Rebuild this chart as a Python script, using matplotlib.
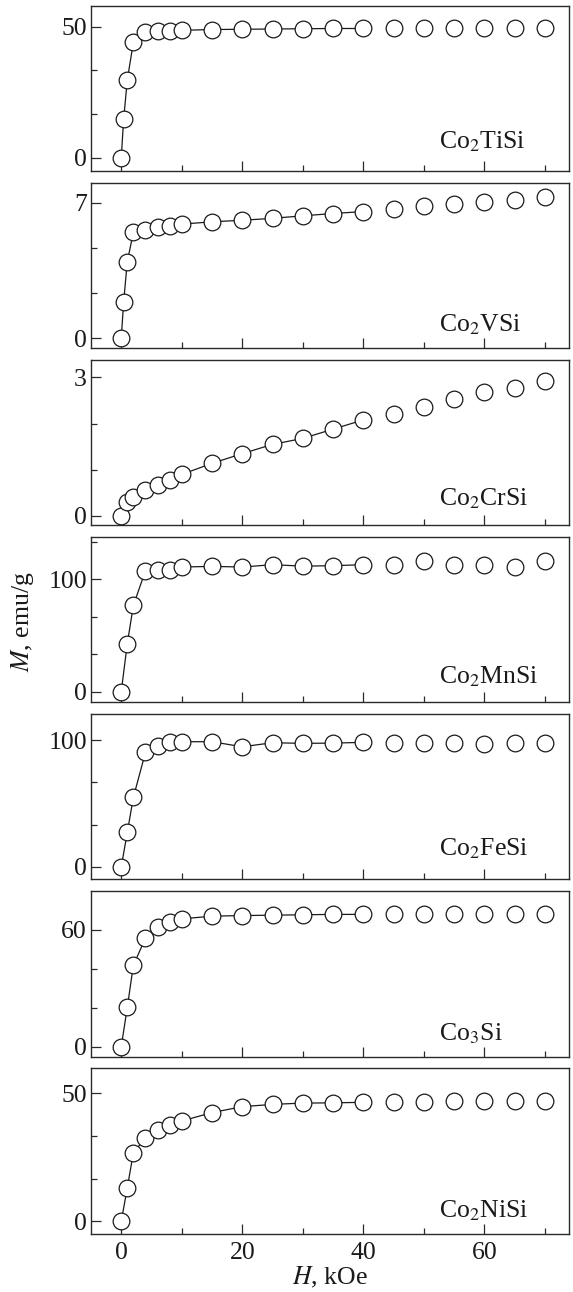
import matplotlib
matplotlib.use("Agg")
import matplotlib.pyplot as plt
from matplotlib.ticker import MultipleLocator, FixedLocator

plt.rcParams['font.family'] = ['Liberation Serif', 'DejaVu Serif']
plt.rcParams['mathtext.fontset'] = 'stix'

# ---- data ----
H_a = [0, 0.4, 1, 2, 4, 6, 8, 10, 15, 20, 25, 30, 35, 40, 45, 50, 55, 60, 65, 70]
H_b = [0, 1, 2, 4, 6, 8, 10, 15, 20, 25, 30, 35, 40, 45, 50, 55, 60, 65, 70]

M_TiSi = [0, 14.8, 29.7, 44.0, 47.8, 48.2, 48.5, 48.6, 48.9, 49.0, 49.1, 49.2, 49.3,
          49.3, 49.4, 49.4, 49.4, 49.5, 49.5, 49.5]
M_VSi = [0, 1.89, 3.96, 5.47, 5.61, 5.73, 5.80, 5.90, 6.02, 6.10, 6.20, 6.33, 6.45,
         6.55, 6.70, 6.82, 6.93, 7.02, 7.14, 7.28]
M_CrSi = [0, 0.31, 0.41, 0.56, 0.67, 0.78, 0.90, 1.14, 1.35, 1.55, 1.68, 1.88, 2.08,
          2.21, 2.35, 2.53, 2.68, 2.78, 2.93]
M_MnSi = [0, 42.7, 76.6, 107.4, 108.3, 108.3, 110.7, 111.3, 110.7, 112.8, 111.5, 111.9,
          112.8, 112.8, 115.8, 112.8, 112.2, 110.4, 115.8]
M_FeSi = [0, 27.1, 54.7, 90.3, 95.3, 98.2, 98.7, 98.7, 94.7, 97.9, 97.4, 97.6, 98.2,
          97.4, 97.4, 97.4, 96.6, 97.4, 97.4]
M_Co3Si = [0, 20.1, 41.7, 55.6, 61.4, 64.1, 65.5, 66.9, 67.2, 67.4, 67.6, 67.8, 67.8,
           67.9, 67.9, 67.9, 67.9, 67.9, 67.9]
M_NiSi = [0, 13.1, 26.8, 32.6, 35.6, 37.6, 39.2, 42.5, 44.8, 45.7, 46.2, 46.3, 46.5,
          46.7, 46.8, 46.9, 47.0, 47.0, 47.0]

labels = ["Co$_2$TiSi", "Co$_2$VSi", "Co$_2$CrSi", "Co$_2$MnSi", "Co$_2$FeSi",
          "Co$_3$Si", "Co$_2$NiSi"]
H_sets = [H_a, H_a, H_b, H_b, H_b, H_b, H_b]
M_sets = [M_TiSi, M_VSi, M_CrSi, M_MnSi, M_FeSi, M_Co3Si, M_NiSi]
y_major = [[0, 50], [0, 7], [0, 3], [0, 100], [0, 100], [0, 60], [0, 50]]
y_minor_step = [50 / 3, 7 / 3, 1, 100 / 3, 100 / 3, 20, 50 / 3]
y_lims = [(-5.1, 58), (-0.52, 8.04), (-0.2, 3.38), (-9.5, 137.4), (-10, 120.5),
          (-5.1, 79.7), (-4.8, 59.8)]
x_major = [0, 20, 40, 60]
line_end_H = 40

# ---- layout ----
W, Hpx = 573, 1292
fig = plt.figure(figsize=(W / 100, Hpx / 100), dpi=100)
left_px, right_px = 91, 569
top0, pitch, hgt = 5.7, 177.1, 165.3
label_y = [0.135, 0.10, 0.121, 0.115, 0.143, 0.10, 0.10]
spine_c = '#2a2a2a'
fs = 18.5

for i in range(7):
    top = top0 + i * pitch
    ax = fig.add_axes([left_px / W, 1 - (top + hgt) / Hpx,
                       (right_px - left_px) / W, hgt / Hpx])
    Hs, Ms = H_sets[i], M_sets[i]
    n_line = sum(1 for h in Hs if h <= line_end_H)
    ax.plot(Hs[:n_line], Ms[:n_line], '-', color='#1a1a1a', lw=0.9, zorder=2)
    ax.plot(Hs, Ms, 'o', ms=12.0, mfc='white', mec='#1a1a1a', mew=0.9, zorder=3,
            clip_on=False)
    ax.set_xlim(-5, 74)
    ax.set_ylim(*y_lims[i])
    ax.xaxis.set_major_locator(FixedLocator(x_major))
    ax.xaxis.set_minor_locator(MultipleLocator(10))
    ax.yaxis.set_major_locator(FixedLocator(y_major[i]))
    ax.yaxis.set_minor_locator(MultipleLocator(y_minor_step[i]))
    ax.tick_params(which='both', direction='in', top=False, right=False,
                   color=spine_c, width=0.9, labelsize=fs, labelcolor='#1a1a1a')
    ax.tick_params(which='major', length=7.2)
    ax.tick_params(which='minor', length=4.0)
    ax.tick_params(axis='y', pad=3.0)
    ax.tick_params(axis='x', pad=6)
    for s in ax.spines.values():
        s.set_color(spine_c)
        s.set_linewidth(1.0)
    if i < 6:
        ax.tick_params(axis='x', labelbottom=False)
    ax.text(0.728, label_y[i], labels[i], transform=ax.transAxes, fontsize=fs,
            ha='left', va='baseline', color='#1a1a1a')

fig.text(23 / W, 1 - 622 / Hpx, "$M$, emu/g", rotation=90, ha='center', va='center',
         fontsize=fs, color='#1a1a1a')
fig.text((left_px + right_px) / 2 / W, 1 - 1277 / Hpx, "$H$, kOe", ha='center',
         va='center', fontsize=fs, color='#1a1a1a')

fig.savefig("out.png", dpi=100)
